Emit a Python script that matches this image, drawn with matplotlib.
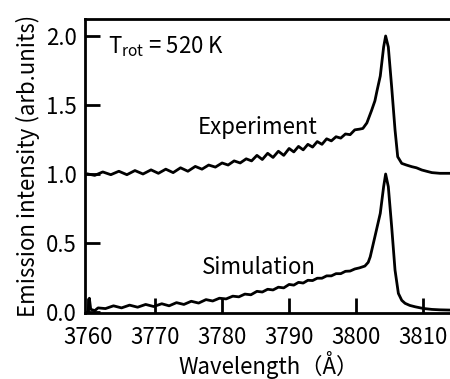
import matplotlib
matplotlib.use("Agg")
import matplotlib.pyplot as plt

plt.rcParams['font.family'] = ['Noto Sans CJK JP', 'DejaVu Sans']

exp_x = [3760.0, 3761.0, 3762.2, 3763.4, 3764.6, 3765.8, 3767.0, 3768.2, 3769.4, 3770.5,
         3771.6, 3772.7, 3773.8, 3774.9, 3776.0, 3777.0, 3778.0, 3779.0, 3780.0, 3780.9,
         3781.8, 3782.7, 3783.6, 3784.4, 3785.2, 3786.0, 3786.8, 3787.6, 3788.4, 3789.2,
         3790.0, 3790.7, 3791.4, 3792.1, 3792.8, 3793.5, 3794.2, 3794.9, 3795.6, 3796.3,
         3797.0, 3797.7, 3798.4, 3799.1, 3799.8, 3800.5, 3801.0, 3801.6, 3802.3, 3802.8,
         3803.1, 3803.6, 3804.1, 3804.4, 3804.8, 3805.3, 3805.8, 3806.2, 3806.8, 3807.5,
         3808.3, 3809.0, 3809.8, 3810.5, 3811.3, 3812.5, 3814.2]
exp_y = [1.000, 0.990, 1.015, 0.995, 1.020, 0.995, 1.025, 1.000, 1.030, 1.005,
         1.035, 1.010, 1.045, 1.020, 1.055, 1.035, 1.065, 1.050, 1.080, 1.065,
         1.095, 1.080, 1.110, 1.095, 1.135, 1.105, 1.150, 1.120, 1.165, 1.135,
         1.185, 1.160, 1.200, 1.175, 1.215, 1.195, 1.235, 1.215, 1.255, 1.240,
         1.270, 1.260, 1.290, 1.285, 1.320, 1.325, 1.330, 1.370, 1.460, 1.530,
         1.600, 1.710, 1.920, 2.000, 1.920, 1.630, 1.320, 1.125, 1.077, 1.065,
         1.053, 1.045, 1.029, 1.020, 1.010, 1.005, 1.005]

sim_x = [3760.0, 3760.2, 3760.4, 3761.0, 3761.5, 3762.6, 3763.8, 3765.0, 3766.2, 3767.4,
         3768.6, 3769.8, 3771.0, 3772.1, 3773.2, 3774.3, 3775.4, 3776.5, 3777.6, 3778.6,
         3779.6, 3780.6, 3781.6, 3782.5, 3783.4, 3784.3, 3785.2, 3786.0, 3786.8, 3787.6,
         3788.4, 3789.2, 3790.0, 3790.7, 3791.4, 3792.1, 3792.8, 3793.5, 3794.2, 3794.9,
         3795.6, 3796.3, 3797.0, 3797.7, 3798.4, 3799.1, 3799.8, 3800.5, 3801.3, 3801.8,
         3802.1, 3802.8, 3803.6, 3804.1, 3804.4, 3804.8, 3805.3, 3805.8, 3806.3, 3806.8,
         3807.3, 3808.0, 3808.8, 3810.0, 3811.3, 3812.5, 3814.2]
sim_y = [0.000, 0.100, 0.020, 0.010, 0.030, 0.025, 0.045, 0.030, 0.050, 0.035,
         0.055, 0.040, 0.060, 0.045, 0.068, 0.055, 0.078, 0.065, 0.090, 0.080,
         0.100, 0.095, 0.115, 0.110, 0.130, 0.125, 0.150, 0.145, 0.165, 0.160,
         0.180, 0.175, 0.200, 0.195, 0.215, 0.210, 0.230, 0.228, 0.245, 0.245,
         0.262, 0.262, 0.278, 0.278, 0.295, 0.297, 0.312, 0.320, 0.333, 0.360,
         0.400, 0.546, 0.715, 0.908, 1.000, 0.908, 0.618, 0.304, 0.135, 0.085,
         0.063, 0.048, 0.038, 0.026, 0.019, 0.016, 0.014]

x_ticks = [3760, 3770, 3780, 3790, 3800, 3810]
y_ticks = [0.0, 0.5, 1.0, 1.5, 2.0]
y_tick_labels = ['0.0', '0.5', '1.0', '1.5', '2.0']

fig = plt.figure(figsize=(4.5, 3.79), dpi=100)
ax = fig.add_axes([85/450, 66/379, 367/450, 294/379])

ax.plot(exp_x, exp_y, color='black', lw=2.0, solid_joinstyle='round')
ax.plot(sim_x, sim_y, color='black', lw=2.0, solid_joinstyle='round')

ax.set_xlim(3759.55, 3814.3)
ax.set_ylim(-0.007, 2.123)
ax.set_xticks(x_ticks)
ax.set_xticklabels([str(v) for v in x_ticks])
ax.set_yticks(y_ticks)
ax.set_yticklabels(y_tick_labels)

for s in ax.spines.values():
    s.set_linewidth(2.0)
ax.spines['right'].set_visible(False)
ax.tick_params(direction='in', length=11, width=2.0, labelsize=16)
ax.tick_params(axis='x', pad=9)
ax.tick_params(axis='y', pad=6)

ax.text(3785.3, 1.34, 'Experiment', ha='center', va='center', fontsize=16)
ax.text(3785.5, 0.32, 'Simulation', ha='center', va='center', fontsize=16)
ax.text(3763.0, 1.92, r'T$_{\mathregular{rot}}$ = 520 K', ha='left', va='center', fontsize=16)

ax.set_xlabel('Wavelength（Å）', fontsize=16, labelpad=2)
ax.set_ylabel('Emission intensity (arb.units)', fontsize=16, labelpad=4)

fig.savefig('out.png', dpi=100)
